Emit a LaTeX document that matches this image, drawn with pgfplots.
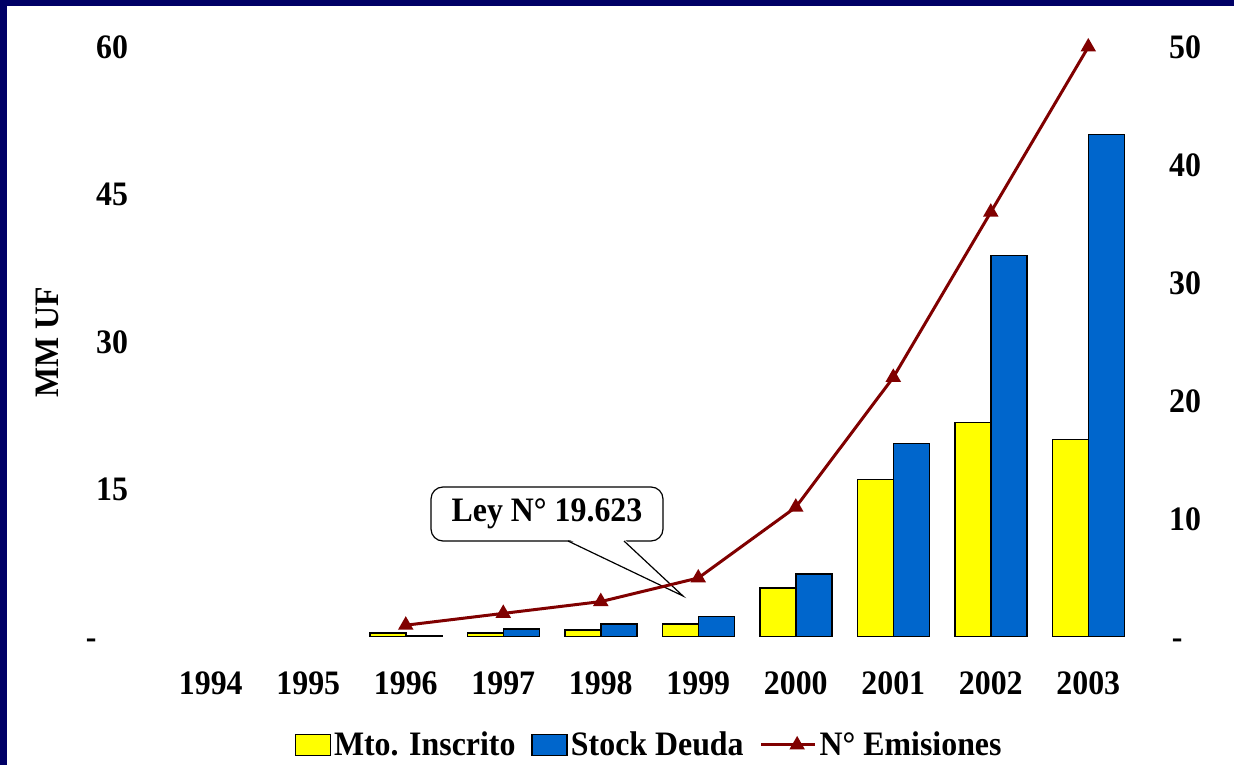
\documentclass[border=0pt]{standalone}
\usepackage{fontspec}
\setmainfont{Liberation Serif}[FakeStretch=0.93]
\usepackage{pgfplots}
\pgfplotsset{compat=1.18}
\definecolor{navy}{RGB}{0,0,102}
\definecolor{barY}{RGB}{255,255,0}
\definecolor{barB}{RGB}{0,102,204}
\definecolor{lineR}{RGB}{128,0,0}
\newcommand\lab{\fontsize{17.2}{20}\selectfont\bfseries}
\pgfplotsset{
  barleg/.style={legend image code/.code={\draw[##1] (0bp,-5.25bp) rectangle (17.5bp,5.25bp);}},
  lineleg/.style={legend image code/.code={\draw[##1,mark=none] (0bp,0bp) -- (18bp,0bp); \draw[##1] plot coordinates {(9bp,0bp)};}},
}
\begin{document}
\begin{tikzpicture}[x=0.5bp,y=0.5bp]
\path[use as bounding box] (0,0) rectangle (1234,765);
\fill[white] (0,0) rectangle (1234,765);
\fill[navy] (0,759) rectangle (1234,765);
\fill[navy] (0,0) rectangle (7,765);
\begin{axis}[
  at={(81bp,64bp)}, anchor=south west, scale only axis,
  width=487.5bp, height=295bp,
  xmin=1993.5, xmax=2003.5, ymin=0, ymax=60,
  axis line style={draw=none}, major tick length=0pt,
  xtick={1994,1995,1996,1997,1998,1999,2000,2001,2002,2003},
  xticklabels={1994,1995,1996,1997,1998,1999,2000,2001,2002,2003},
  ytick={0,15,30,45,60},
  yticklabels={{-\hspace{5bp}\phantom{00}},15,30,45,60},
  ybar=0pt, bar width=18bp,
  xticklabel style={font=\lab, anchor=center, yshift=-23bp},
  yticklabel style={font=\lab, anchor=center, xshift=-25bp},
  ylabel={MM UF},
  ylabel style={font=\lab, at={(axis description cs:-0.118,0.5)}, anchor=center},
  legend columns=-1,
  legend style={at={(0.5,-0.183)}, anchor=center, draw=none, font=\lab,
    nodes={inner xsep=1.5bp},
    /tikz/every even column/.append style={column sep=6.5bp}},
]
\addplot[fill=barY, draw=black, line width=0.75bp, barleg]
  coordinates {(1996,0.4) (1997,0.4) (1998,0.7) (1999,1.3) (2000,5.0) (2001,16.0) (2002,21.8) (2003,20.1)};
\addlegendentry{Mto. Inscrito}
\addplot[fill=barB, draw=black, line width=0.75bp, barleg]
  coordinates {(1996,0.1) (1997,0.8) (1998,1.3) (1999,2.1) (2000,6.4) (2001,19.7) (2002,38.8) (2003,51.1)};
\addlegendentry{Stock Deuda}
\addlegendimage{lineR, line width=1.5bp, mark=triangle*, mark size=3bp, lineleg}
\addlegendentry{N° Emisiones}
\end{axis}
\draw[fill=white, line width=0.6bp, rounded corners=6bp] (431,224) rectangle (663,278);
\fill[white] (568,226) -- (683,169) -- (624,226) -- cycle;
\draw[line width=0.6bp] (568,224) -- (683,169) -- (624,224);
\node[font=\lab] at (547,251) {Ley N° 19.623};
\begin{axis}[
  at={(81bp,64bp)}, anchor=south west, scale only axis,
  width=487.5bp, height=295bp,
  xmin=1993.5, xmax=2003.5, ymin=0, ymax=50,
  axis line style={draw=none}, major tick length=0pt,
  xtick=\empty,
  ytick={0,10,20,30,40,50},
  yticklabels={{-\phantom{0}},10,20,30,40,50},
  yticklabel pos=right,
  yticklabel style={font=\lab, anchor=center, xshift=24bp},
]
\addplot[lineR, line width=1.5bp, mark=triangle*, mark size=3bp, mark options={solid}]
  coordinates {(1996,1) (1997,2) (1998,3) (1999,5) (2000,11) (2001,22) (2002,36) (2003,50)};
\end{axis}
\end{tikzpicture}
\end{document}
